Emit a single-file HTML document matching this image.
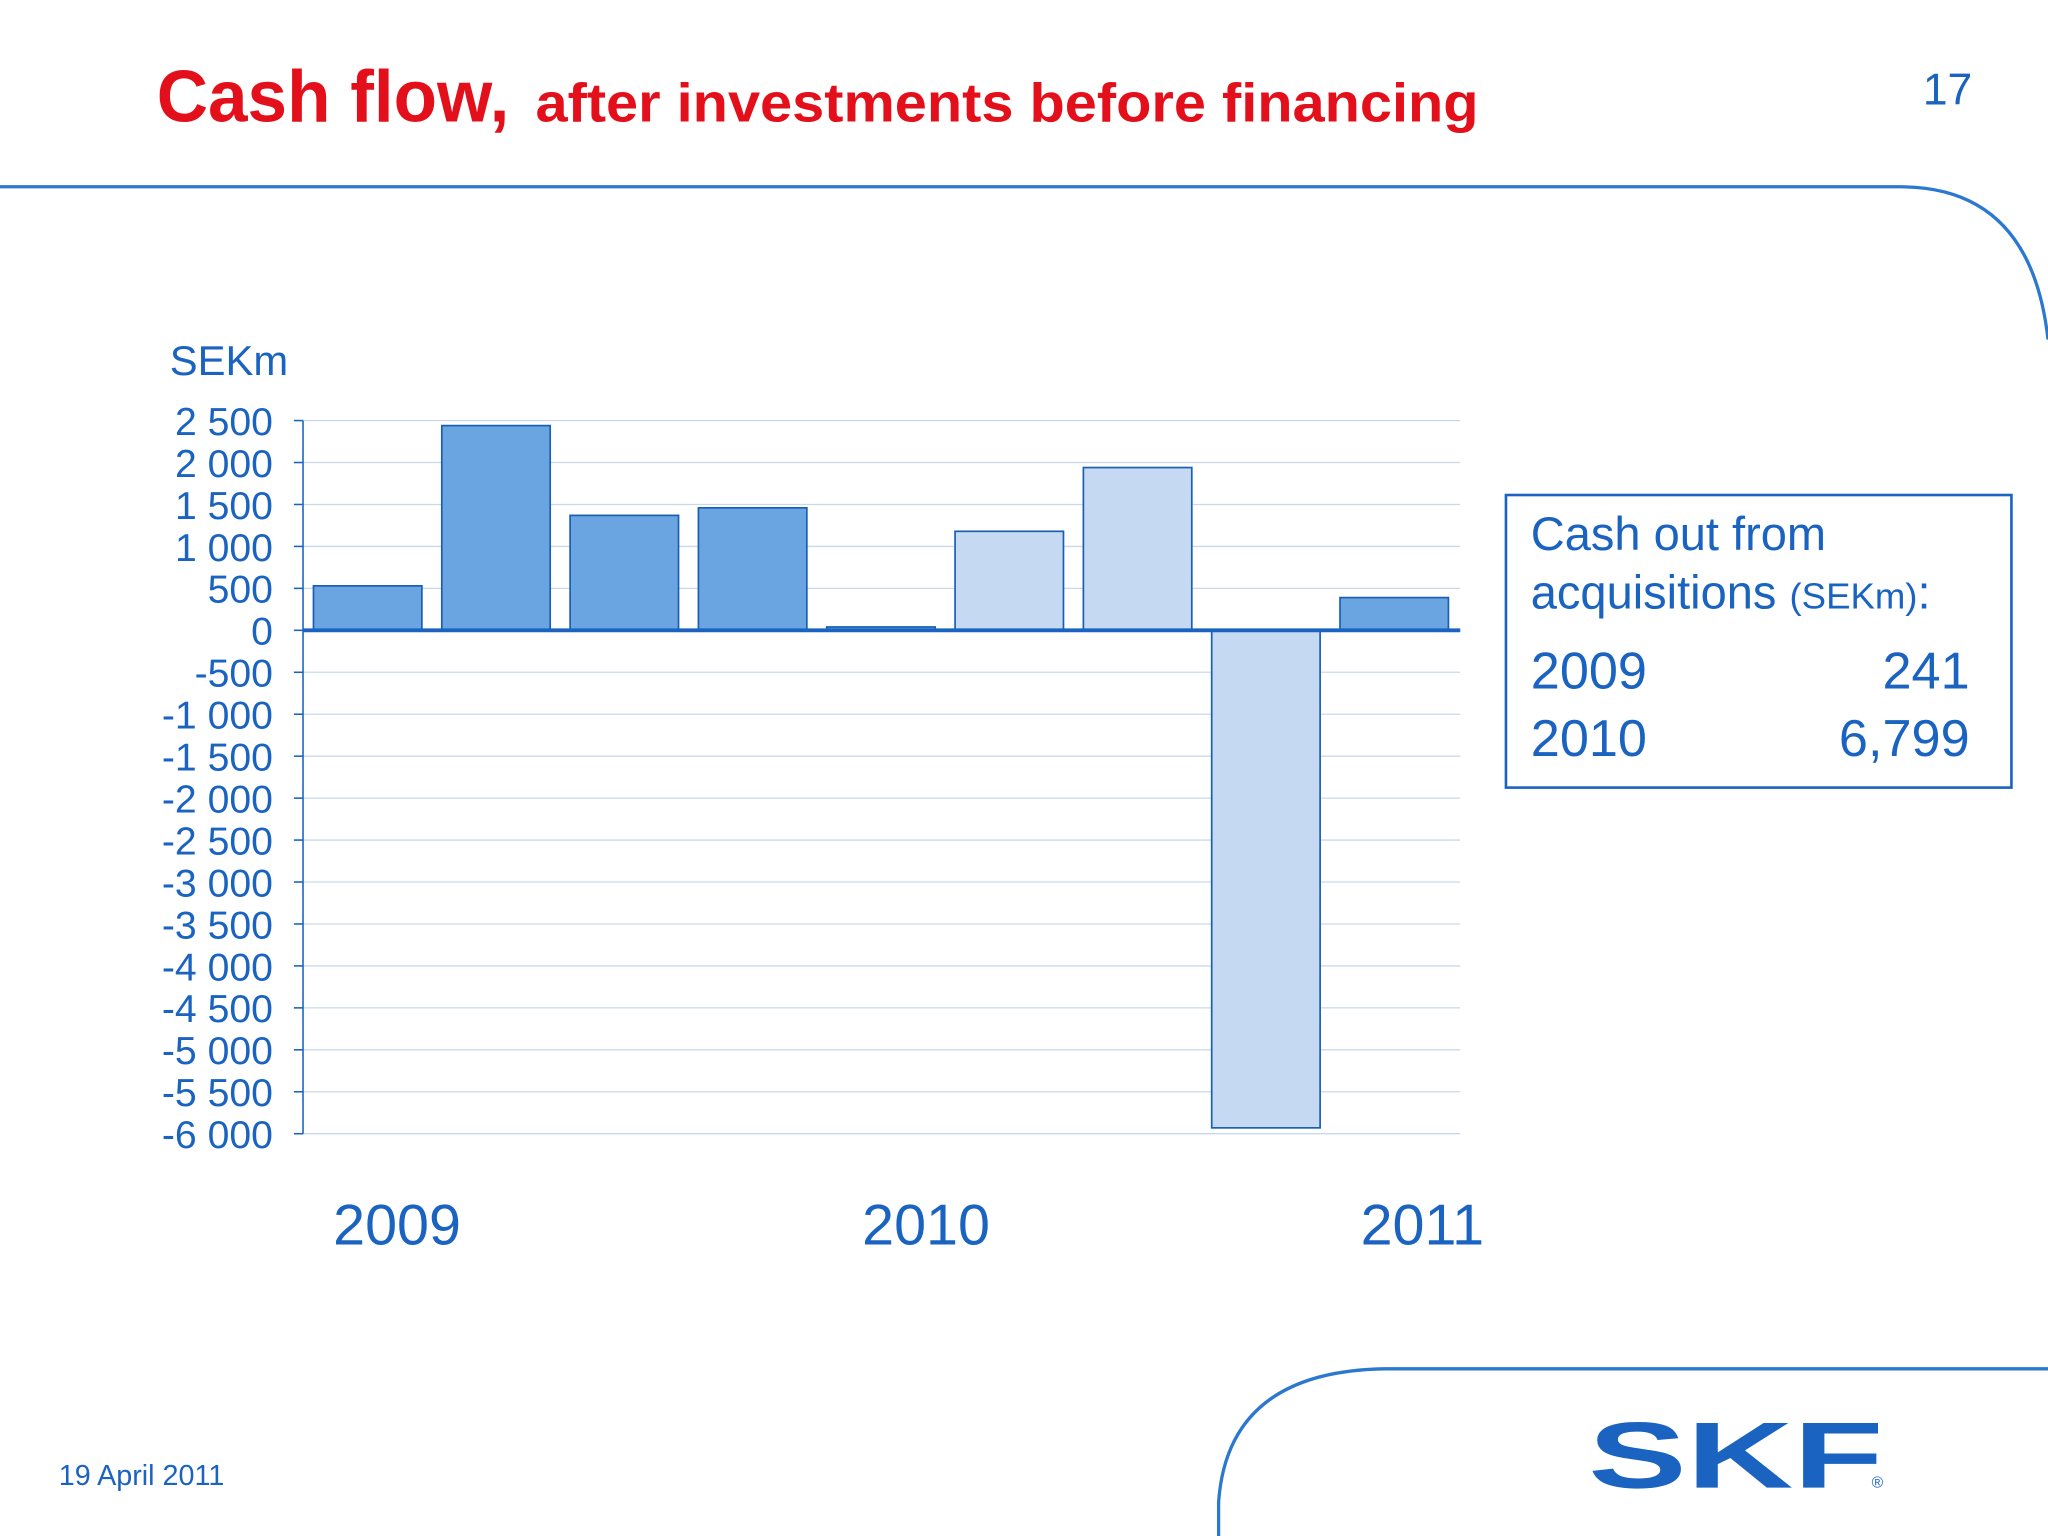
<!DOCTYPE html>
<html><head><meta charset="utf-8"><style>
html,body{margin:0;padding:0;background:#fff;}
svg{display:block;font-family:"Liberation Sans",sans-serif;}
</style></head><body>
<svg id="chart" width="2048" height="1536" viewBox="0 0 1568 1176" xmlns="http://www.w3.org/2000/svg">
<rect width="1568" height="1176" fill="#fff"/>
<text x="120" y="93" fill="#e3101b" font-weight="bold" font-size="56" textLength="270" lengthAdjust="spacingAndGlyphs">Cash flow,</text>
<text x="410" y="93" fill="#e3101b" font-weight="bold" font-size="42" textLength="722" lengthAdjust="spacingAndGlyphs">after investments before financing</text>
<text x="1510" y="80" fill="#1a63c0" font-size="34" text-anchor="end">17</text>
<path d="M0 143 H1455 Q1555 143 1568 260" fill="none" stroke="#2b78d0" stroke-width="2.5"/>
<path d="M933 1176 V1150 Q940 1050 1060 1048 H1568" fill="none" stroke="#2b78d0" stroke-width="2.5"/>
<text x="130" y="287" fill="#1a63c0" font-size="32">SEKm</text>
<g id="grid"></g><g id="bars"></g><g id="ticks"></g>
<text x="304" y="953" fill="#1a63c0" font-size="44" text-anchor="middle">2009</text>
<text x="709" y="953" fill="#1a63c0" font-size="44" text-anchor="middle">2010</text>
<text x="1089" y="953" fill="#1a63c0" font-size="44" text-anchor="middle">2011</text>
<g>
<rect x="1153" y="379" width="387" height="224" fill="#fff" stroke="#1a63c0" stroke-width="2"/>
<text x="1172" y="421" fill="#1a63c0" font-size="36">Cash out from</text>
<text x="1172" y="466" fill="#1a63c0" font-size="36">acquisitions <tspan font-size="28">(SEKm)</tspan>:</text>
<text x="1172" y="527" fill="#1a63c0" font-size="40">2009</text>
<text x="1508" y="527" fill="#1a63c0" font-size="40" text-anchor="end">241</text>
<text x="1172" y="579" fill="#1a63c0" font-size="40">2010</text>
<text x="1508" y="579" fill="#1a63c0" font-size="40" text-anchor="end">6,799</text>
</g>
<text x="45" y="1137" fill="#1a63c0" font-size="22">19 April 2011</text>
<text x="1216" y="1139" fill="#1a63c0" font-size="72" font-weight="bold" textLength="226" lengthAdjust="spacingAndGlyphs">SKF</text>
<text x="1433" y="1139" fill="#1a63c0" font-size="12">®</text>
</svg>
<script>
const categories=["Q1-09","Q2-09","Q3-09","Q4-09","Q1-10","Q2-10","Q3-10","Q4-10","Q1-11"];
const values=[530,2440,1370,1460,40,1180,1940,-5930,390];
const lightBars=[false,false,false,false,false,true,true,true,false];
const tickValues=[2500,2000,1500,1000,500,0,-500,-1000,-1500,-2000,-2500,-3000,-3500,-4000,-4500,-5000,-5500,-6000];
const tickLabels=["2 500","2 000","1 500","1 000","500","0","-500","-1 000","-1 500","-2 000","-2 500","-3 000","-3 500","-4 000","-4 500","-5 000","-5 500","-6 000"];
const NS="http://www.w3.org/2000/svg";
const x0=232,x1=1118,yTop=322,yBot=868,vMax=2500,vMin=-6000;
const y=v=>yTop+(vMax-v)/(vMax-vMin)*(yBot-yTop);
const slot=(x1-x0)/categories.length;
const xs=i=>x0+8+(slot-0.2)*i;
function mk(tag,attrs,parent){const e=document.createElementNS(NS,tag);for(const k in attrs)e.setAttribute(k,attrs[k]);parent.appendChild(e);return e;}
const grid=document.getElementById('grid'),bars=document.getElementById('bars'),ticks=document.getElementById('ticks');
tickValues.forEach((v,i)=>{
  const l=mk('line',{x1:x0,x2:x1,y1:y(v),y2:y(v),stroke:'#c9d9ec','stroke-width':1},grid);
  
  
  const t=mk('line',{x1:x0-7,x2:x0,y1:y(v),y2:y(v),stroke:'#1a63c0','stroke-width':1.2},ticks);
  
  
  const tx=mk('text',{x:209,y:y(v)+11,'text-anchor':'end',fill:'#1a63c0','font-size':30},ticks);
  tx.textContent=tickLabels[i];
  
  
});
const ax=mk('line',{x1:x0,x2:x0,y1:yTop,y2:yBot,stroke:'#1a63c0','stroke-width':1.2},ticks);


values.forEach((v,i)=>{
  const top=Math.min(y(v),y(0)),h=Math.abs(y(v)-y(0));
  const r=mk('rect',{x:xs(i),y:top,width:83,height:Math.max(h,1),fill:lightBars[i]?'#c5daf2':'#6aa5e2',stroke:'#1a5fb4','stroke-width':1.3},bars);
  
  
});
const zl=mk('line',{x1:x0,x2:x1,y1:y(0),y2:y(0),stroke:'#1a63c0','stroke-width':3},ticks);


</script>
</body></html>
